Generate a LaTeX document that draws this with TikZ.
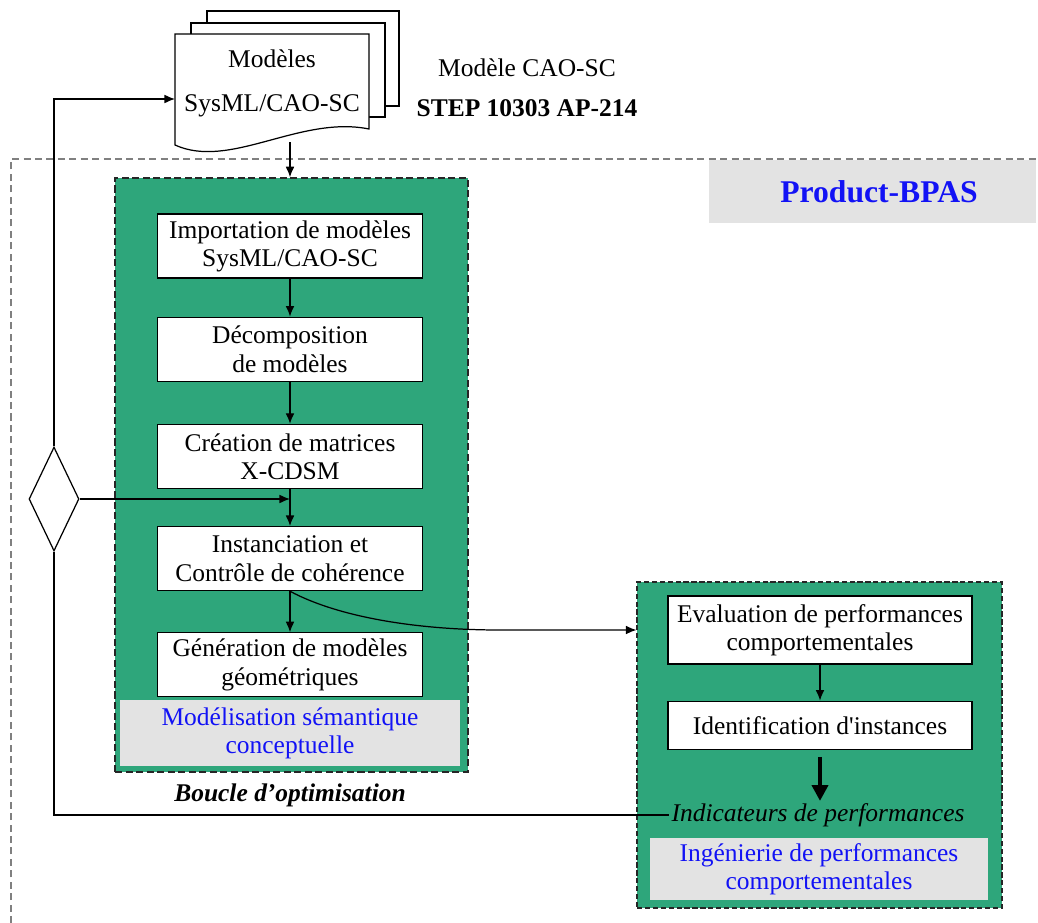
\documentclass[tikz,border=0pt]{standalone}
\usepackage{fontspec}
\setmainfont{Liberation Serif}[Ligatures=TeXOff]
\usetikzlibrary{shapes.geometric, arrows.meta, positioning, calc}
\definecolor{zonegreen}{RGB}{46,166,123}
\definecolor{tagback}{RGB}{227,227,227}
\definecolor{tagblue}{RGB}{18,18,245}

\begin{document}
\begin{tikzpicture}[x=0.02cm, y=-0.02cm, >={Latex[length=6pt, width=5pt]}, line width=0.7pt,
  font=\fontsize{14.5}{16}\selectfont,
  stepbox/.style={draw, fill=white, minimum width=5.3cm, minimum height=1.28cm, align=center, inner sep=2pt},
  zone/.style={draw=black!85, fill=zonegreen, line width=0.9pt, dash pattern=on 4pt off 2pt},
  tagbox/.style={fill=tagback, text=tagblue, align=center, inner sep=2pt},
  flow/.style={->}]
\useasboundingbox (0,0) rectangle (1038,923);

% outer frame and title
\draw[gray, line width=0.8pt, dash pattern=on 4pt off 2.5pt] (11,923) -- (11,159) -- (1036,159);
\node[fill=tagback, minimum width=6.54cm, minimum height=1.26cm] (bpasbox) at (872.5,191.5) {};
\node[text=tagblue, font=\fontsize{18}{20}\selectfont\bfseries] (bpas) at (879,191.5) {Product-BPAS};

% stack of models
\draw[fill=white] (207,11) rectangle (399,106);
\draw[fill=white] (191,23) rectangle (385,117);
\draw[fill=white] (175,34) -- (369,34) -- (369,129) .. controls (300,115) and (230,170) .. (175,145) -- cycle;
\node[align=center] (docs) at (272,83) {Modèles\\[9pt]SysML/CAO-SC};
\coordinate (docsin) at (175,99);
\coordinate (docsout) at (290,142);
\node (cadref) at (527,68) {Modèle CAO-SC};
\node[font=\fontsize{14.5}{16}\selectfont\bfseries] (stepref) at (527,108) {STEP 10303 AP-214};

% conceptual semantic modelling
\node[zone, minimum width=7.06cm, minimum height=11.88cm] (leftzone) at (291.5,475) {};
\node[stepbox] (import) at (290,246) {Importation de modèles\\SysML/CAO-SC};
\node[stepbox, below=0.76cm of import] (decomp) {Décomposition\\de modèles};
\node[stepbox, below=0.84cm of decomp] (matrix) {Création de matrices\\X-CDSM};
\node[stepbox, below=0.74cm of matrix] (inst) {Instanciation et\\Contrôle de cohérence};
\node[stepbox, below=0.82cm of inst] (geom) {Génération de modèles\\géométriques};
\node[tagbox, minimum width=6.8cm, minimum height=1.32cm] (semtag) at (290,733) {Modélisation sémantique\\conceptuelle};
\node[font=\fontsize{14.5}{16}\selectfont\bfseries\itshape] (loopname) at (290,795) {Boucle d’optimisation};

% behavioural performance engineering
\node[zone, line width=0.7pt, dash pattern=on 3pt off 1.5pt, minimum width=7.3cm, minimum height=6.52cm] (rightzone) at (819.5,745) {};
\node[stepbox, minimum width=6.08cm, minimum height=1.36cm] (evalperf) at (820,630) {Evaluation de performances\\comportementales};
\node[stepbox, minimum width=6.08cm, minimum height=0.96cm, below=0.72cm of evalperf] (ident) {Identification d'instances};
\node[font=\fontsize{14.5}{16}\selectfont\itshape, inner sep=1pt] (indic) at (818,815) {Indicateurs de performances};
\node[tagbox, minimum width=6.76cm, minimum height=1.24cm] (perftag) at (819,869) {Ingénierie de performances\\comportementales};

% decision
\node[draw, diamond, fill=white, minimum width=1cm, minimum height=2.08cm, inner sep=0pt, aspect=0.5] (choice) at (54,499) {};

% connectors
\draw[flow] (docsout) -- (docsout |- leftzone.north);
\draw[flow] (import) -- (decomp);
\draw[flow] (decomp) -- (matrix);
\draw[flow] (matrix) -- (inst);
\draw[flow] (inst) -- (geom);
\draw[flow] (choice.east) -- (matrix.south |- choice.east);
\draw[flow] (choice.north) |- (docsin);
\draw (choice.south) |- (indic.west);
\draw[flow] (inst.south) .. controls (340,618) and (420,630) .. (500,630) -- (rightzone.west |- evalperf);
\draw[flow] (evalperf) -- (ident);
\draw[-{Triangle[length=9pt, width=9pt]}, line width=2.6pt] ([yshift=-4pt]ident.south) -- (ident.south |- indic.north);
\end{tikzpicture}
\end{document}
